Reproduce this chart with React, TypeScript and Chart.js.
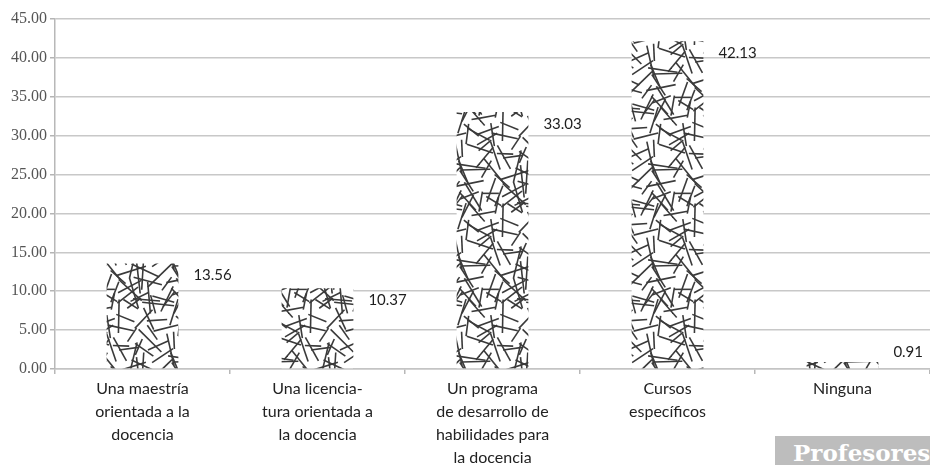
import { useEffect, useRef } from "react";
import { Chart, registerables } from "chart.js";

Chart.register(...registerables);

// Categories (multi-line axis labels)
const categories: string[][] = [
  ["Una maestría", "orientada a la", "docencia"],
  ["Una licencia-", "tura orientada a", "la docencia"],
  ["Un programa", "de desarrollo de", "habilidades para", "la docencia"],
  ["Cursos", "específicos"],
  ["Ninguna"],
];

// Percentages per category
const percentages: number[] = [13.56, 10.37, 33.03, 42.13, 0.91];

// Y axis range
const yMin = 0;
const yMax = 45;
const yStep = 5;

// Straw-like texture used to fill the bars (deterministic, evenly spread angles)
function makeStrawPattern(ctx: CanvasRenderingContext2D): CanvasPattern | string {
  const size = 96;
  const c = document.createElement("canvas");
  c.width = size;
  c.height = size;
  const g = c.getContext("2d");
  if (!g) return "#555";
  g.fillStyle = "#ffffff";
  g.fillRect(0, 0, size, size);
  let s = 20240611;
  const rnd = () => {
    s = (s + 0x6d2b79f5) | 0;
    let t = Math.imul(s ^ (s >>> 15), 1 | s);
    t = (t + Math.imul(t ^ (t >>> 7), 61 | t)) ^ t;
    return ((t ^ (t >>> 14)) >>> 0) / 4294967296;
  };
  const golden = 0.6180339887;
  g.strokeStyle = "#3a3a3a";
  g.lineWidth = 1.6;
  g.lineCap = "butt";
  const count = 72;
  const cells = 8;
  const cell = size / cells;
  for (let i = 0; i < count; i++) {
    // spread centres over a grid so the mesh has no large gaps
    const k = i % (cells * cells);
    const x = ((k % cells) + rnd()) * cell;
    const y = (Math.floor(k / cells) + rnd()) * cell;
    const a = ((i * golden) % 1) * Math.PI;
    const len = 16 + rnd() * 18;
    const dx = (Math.cos(a) * len) / 2;
    const dy = (Math.sin(a) * len) / 2;
    for (const ox of [-size, 0, size]) {
      for (const oy of [-size, 0, size]) {
        g.beginPath();
        g.moveTo(x - dx + ox, y - dy + oy);
        g.lineTo(x + dx + ox, y + dy + oy);
        g.stroke();
      }
    }
  }
  return ctx.createPattern(c, "repeat") || "#555";
}

// Value labels drawn to the right of each bar's top
const valueLabels = {
  id: "valueLabels",
  afterDatasetsDraw(chart: any) {
    const ctx: CanvasRenderingContext2D = chart.ctx;
    const meta = chart.getDatasetMeta(0);
    ctx.save();
    ctx.font = "15px Lato";
    ctx.fillStyle = "#1e1e1e";
    ctx.textAlign = "left";
    ctx.textBaseline = "middle";
    meta.data.forEach((bar: any, i: number) => {
      const { x, y, width, base } = bar.getProps(["x", "y", "width", "base"], true);
      const h = base - y;
      const ty = h > 20 ? y + 12 : y - 10;
      ctx.fillText(percentages[i].toFixed(2), x + width / 2 + 15, ty);
    });
    ctx.restore();
  },
};

export default function App() {
  const canvasRef = useRef<HTMLCanvasElement | null>(null);

  useEffect(() => {
    document.body.style.margin = "0";
    const canvas = canvasRef.current;
    if (!canvas) return;
    const ctx = canvas.getContext("2d");
    if (!ctx) return;
    const pattern = makeStrawPattern(ctx);

    const chart = new Chart(canvas, {
      type: "bar",
      data: {
        labels: categories,
        datasets: [
          {
            data: percentages,
            backgroundColor: pattern as any,
            borderWidth: 0,
            barPercentage: 0.41,
            categoryPercentage: 1,
          },
        ],
      },
      options: {
        animation: false,
        responsive: true,
        maintainAspectRatio: false,
        layout: { padding: { top: 19, right: 0, left: 0, bottom: 0 } },
        plugins: {
          legend: { display: false },
          tooltip: { enabled: false },
          title: { display: false },
        },
        scales: {
          x: {
            grid: {
              display: true,
              drawOnChartArea: false,
              drawTicks: true,
              offset: true,
              tickLength: 5,
              color: "#b8b8b8",
              lineWidth: 1.5,
            },
            border: { display: true, color: "#c4c4c4", width: 1.5 },
            ticks: {
              autoSkip: false,
              maxRotation: 0,
              minRotation: 0,
              padding: 3,
              color: "#222222",
              font: { family: "Lato", size: 16, lineHeight: 1.45 },
            },
            afterFit: (scale: any) => {
              scale.height = 96;
            },
          },
          y: {
            min: yMin,
            max: yMax,
            ticks: {
              stepSize: yStep,
              padding: 3,
              color: "#555555",
              font: { family: "Liberation Serif", size: 16 },
              callback: (v: any) => Number(v).toFixed(2),
            },
            grid: {
              color: "#c8c8c8",
              lineWidth: 1.5,
              tickLength: 5,
              tickColor: "#b4b4b4",
            },
            border: { display: true, color: "#b8b8b8", width: 1.5 },
            afterFit: (scale: any) => {
              scale.width = 55;
            },
          },
        },
      },
      plugins: [valueLabels],
    });

    return () => chart.destroy();
  }, []);

  return (
    <div style={{ position: "relative", width: 930, height: 465, background: "#ffffff", overflow: "hidden" }}>
      <canvas ref={canvasRef} />
      <div
        style={{
          position: "absolute",
          left: 775,
          top: 436,
          width: 155,
          height: 29,
          background: "#bdbdbd",
          color: "#ffffff",
          fontFamily: "'DejaVu Serif', serif",
          fontWeight: "bold",
          fontSize: 23,
          lineHeight: "33px",
          paddingLeft: 18,
          boxSizing: "border-box",
          whiteSpace: "nowrap",
          overflow: "hidden",
        }}
      >
        Profesores
      </div>
    </div>
  );
}
